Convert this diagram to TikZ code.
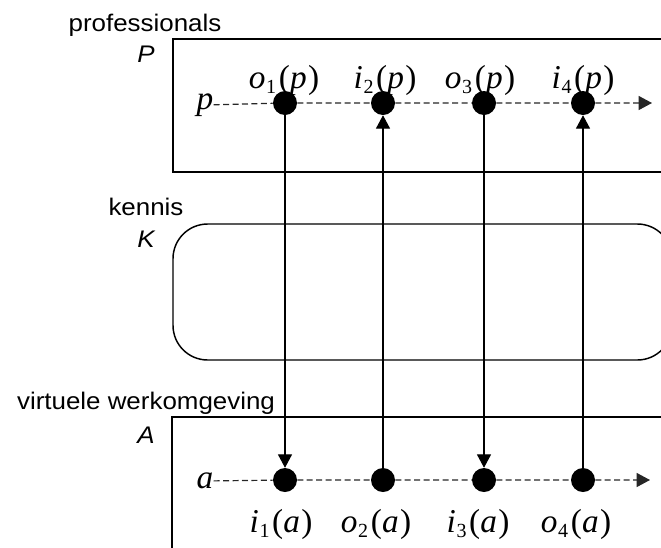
\documentclass[tikz,border=0pt]{standalone}
\usepackage{fontspec}
\setmainfont{Liberation Serif}
\newfontfamily\lblsans[FakeStretch=1.08]{Liberation Sans}
\usetikzlibrary{arrows.meta}

\newcommand{\evlbl}[3]{\textit{#1}\kern0.5pt\raisebox{-4pt}{\fontsize{15}{16}\selectfont #2}\kern2pt(\textit{#3}\kern1pt)}

\begin{document}
\begin{tikzpicture}[
    x=0.75pt, y=-0.75pt,
    >={Triangle[length=10pt,width=10.5pt]},
    layer/.style={draw=black, line width=1.1pt},
    event/.style={circle, fill=black, inner sep=0pt, minimum size=18pt},
    setname/.style={font=\lblsans\fontsize{18}{21}\selectfont},
    setsym/.style={font=\lblsans\itshape\fontsize{18}{21}\selectfont},
    evname/.style={font=\fontsize{25}{28}\selectfont, inner sep=0pt},
    timeline/.style={->, dash pattern=on 4.5pt off 2.6pt, line width=0.9pt, black!85},
    flow/.style={->, line width=0.8pt},
]
  \useasboundingbox (0,0) rectangle (661,547);
  \clip (0,0) rectangle (661,547);

  % Set names
  \node[setname] (pname) at (145,25) {professionals};
  \node[setsym] (psym) at (146,54) {P};
  \node[setname] (kname) at (146,207) {kennis};
  \node[setsym] (ksym) at (146,239) {K};
  \node[setname] (aname) at (146,403) {virtuele werkomgeving};
  \node[setsym] (asym) at (146,435) {A};

  % Layers
  \draw[layer] (173,39) rectangle (700,172);
  \draw[layer, rounded corners=26pt] (173,224) rectangle (672,360);
  \draw[layer] (172,417) rectangle (700,600);

  % Time lines
  \node[evname] (pline) at (205,105) {\textit{p}};
  \node[evname] (aline) at (205,481) {\textit{a}};
  \coordinate (pend) at (652,103);
  \coordinate (aend) at (650,480);

  % Events of p
  \node[event] (p1) at (285,103) {};
  \node[event] (p2) at (383,103) {};
  \node[event] (p3) at (484,103) {};
  \node[event] (p4) at (583,103) {};

  % Events of a
  \node[event] (a1) at (285,480) {};
  \node[event] (a2) at (383,480) {};
  \node[event] (a3) at (484,480) {};
  \node[event] (a4) at (583,480) {};

  \draw[timeline] (pline) -- (p1) -- (p2) -- (p3) -- (p4) -- (pend);
  \draw[timeline] (aline) -- (a1) -- (a2) -- (a3) -- (a4) -- (aend);

  % Output -> input arrows
  \foreach \i in {1,3} {
    \draw[flow] (p\i) -- (a\i);
  }
  \foreach \i in {2,4} {
    \draw[flow] (a\i) -- (p\i);
  }

  % Event labels
  \node[evname] (lp1) at (284,80) {\evlbl{o}{1}{p}};
  \node[evname] (lp2) at (385,80) {\evlbl{i}{2}{p}};
  \node[evname] (lp3) at (480,80) {\evlbl{o}{3}{p}};
  \node[evname] (lp4) at (583,80) {\evlbl{i}{4}{p}};
  \node[evname] (la1) at (281,524) {\evlbl{i}{1}{a}};
  \node[evname] (la2) at (376,524) {\evlbl{o}{2}{a}};
  \node[evname] (la3) at (478,524) {\evlbl{i}{3}{a}};
  \node[evname] (la4) at (576,524) {\evlbl{o}{4}{a}};

\end{tikzpicture}
\end{document}
